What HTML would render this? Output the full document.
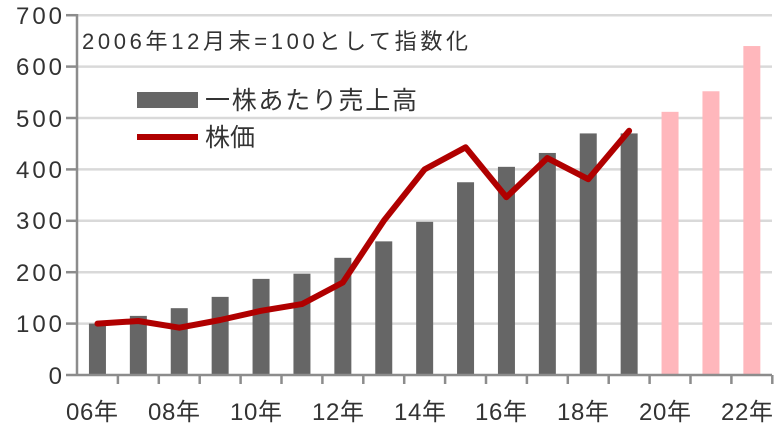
<!DOCTYPE html>
<html><head><meta charset="utf-8"><style>
body{margin:0;background:#fff;}
svg{display:block;}
text{font-family:"Liberation Sans","Noto Sans CJK JP",sans-serif;fill:#333;}
</style></head><body>
<svg id="s" width="783" height="427" xmlns="http://www.w3.org/2000/svg">
<g stroke="#d9d9d9" stroke-width="2.5">
<line x1="77" x2="772" y1="323.6" y2="323.6"/>
<line x1="77" x2="772" y1="272.2" y2="272.2"/>
<line x1="77" x2="772" y1="220.8" y2="220.8"/>
<line x1="77" x2="772" y1="169.4" y2="169.4"/>
<line x1="77" x2="772" y1="118" y2="118"/>
<line x1="77" x2="772" y1="66.6" y2="66.6"/>
<line x1="77" x2="772" y1="15.2" y2="15.2"/>
</g>
<g id="bars"></g>
<polyline id="ln" fill="none" stroke="#b00000" stroke-width="6" stroke-linejoin="round" stroke-linecap="round"/>
<g stroke="#8c8c8c" stroke-width="2.5" id="ax">
<line x1="77" x2="77" y1="14" y2="376"/>
<line x1="66" x2="772" y1="375" y2="375"/>
<line x1="66" x2="77" y1="323.6" y2="323.6"/>
<line x1="66" x2="77" y1="272.2" y2="272.2"/>
<line x1="66" x2="77" y1="220.8" y2="220.8"/>
<line x1="66" x2="77" y1="169.4" y2="169.4"/>
<line x1="66" x2="77" y1="118" y2="118"/>
<line x1="66" x2="77" y1="66.6" y2="66.6"/>
<line x1="66" x2="77" y1="15.2" y2="15.2"/>
</g>
<g font-size="24" text-anchor="end">
<text x="62" y="384">0</text>
<text x="62" y="332" textLength="46">100</text>
<text x="62" y="281" textLength="46">200</text>
<text x="62" y="229" textLength="46">300</text>
<text x="62" y="178" textLength="46">400</text>
<text x="62" y="127" textLength="46">500</text>
<text x="62" y="75" textLength="46">600</text>
<text x="62" y="24" textLength="46">700</text>
</g>
<g font-size="24" text-anchor="middle">
<text x="92" y="420" textLength="52">06年</text>
<text x="174" y="420" textLength="52">08年</text>
<text x="256" y="420" textLength="52">10年</text>
<text x="338" y="420" textLength="52">12年</text>
<text x="420" y="420" textLength="52">14年</text>
<text x="501" y="420" textLength="52">16年</text>
<text x="583" y="420" textLength="52">18年</text>
<text x="665" y="420" textLength="52">20年</text>
<text x="747" y="420" textLength="52">22年</text>
</g>
<text x="82" y="49" font-size="22" textLength="386">2006年12月末=100として指数化</text>
<rect x="137" y="92" width="61" height="16" fill="#666"/>
<text x="205" y="109" font-size="25" textLength="212">一株あたり売上高</text>
<line x1="137" x2="198" y1="137" y2="137" stroke="#b00000" stroke-width="6"/>
<text x="205" y="146" font-size="25">株価</text>
</svg>
<script>
var ns="http://www.w3.org/2000/svg";
var b=[100,115,130,152,187,197,228,260,298,375,405,432,470,470,512,552,640];
var l=[100,105,92,107,125,138,180,300,400,443,346,422,381,475];
function y(v){return 375-v*0.514;}
var g=document.getElementById("bars"),ax=document.getElementById("ax"),pts=[];
for(var i=0;i<17;i++){var cx=77+40.9*(i+0.5);
var r=document.createElementNS(ns,"rect");r.setAttribute("x",cx-8.5);r.setAttribute("width",17);
r.setAttribute("y",y(b[i]));r.setAttribute("height",375-y(b[i]));r.setAttribute("fill",i<14?"#666":"#ffb7bc");g.appendChild(r);
var t=document.createElementNS(ns,"line");var tx=77+40.9*(i+1);t.setAttribute("x1",tx);t.setAttribute("x2",tx);t.setAttribute("y1",375);t.setAttribute("y2",384);ax.appendChild(t);
if(i<14)pts.push(cx.toFixed(1)+","+y(l[i]).toFixed(1));}
document.getElementById("ln").setAttribute("points",pts.join(" "));
</script>
</body></html>
